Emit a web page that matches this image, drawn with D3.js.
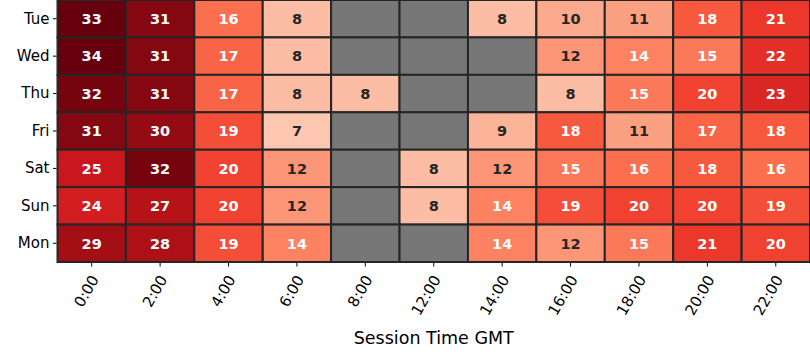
<!DOCTYPE html>
<html><head><meta charset="utf-8">
<script src="https://cdn.jsdelivr.net/npm/d3@7"></script>
<style>body{margin:0;background:#fff;} text{font-family:"DejaVu Sans",sans-serif;}</style>
</head><body>
<svg id="c" width="810" height="360"></svg>
<script>
const days = ["Tue","Wed","Thu","Fri","Sat","Sun","Mon"];
const times = ["0:00","2:00","4:00","6:00","8:00","12:00","14:00","16:00","18:00","20:00","22:00"];
const tue = [33,31,16,8,null,null,8,10,11,18,21];
const wed = [34,31,17,8,null,null,null,12,14,15,22];
const thu = [32,31,17,8,8,null,null,8,15,20,23];
const fri = [31,30,19,7,null,null,9,18,11,17,18];
const sat = [25,32,20,12,null,8,12,15,16,18,16];
const sun = [24,27,20,12,null,8,14,19,20,20,19];
const mon = [29,28,19,14,null,null,14,12,15,21,20];
const rows = [tue,wed,thu,fri,sat,sun,mon];
const redsStops = ["#fff5f0","#fee0d2","#fcbba1","#fc9272","#fb6a4a","#ef3b2c","#cb181d","#a50f15","#67000d"];

const svg = d3.select("#c");
const L = 57.5, R = 810, T = 0, B = 262;
const x = d3.scaleBand().domain(times).range([L,R]);
const y = d3.scaleBand().domain(days).range([T,B]);
const vmax = 33;
const color = d3.scaleLinear()
  .domain(redsStops.map((_,i)=>i/(redsStops.length-1)*vmax))
  .range(redsStops).interpolate(d3.interpolateRgb).clamp(true);

const cells = [];
rows.forEach((r,i)=>r.forEach((v,j)=>cells.push({day:days[i],time:times[j],v})));

const g = svg.append("g");
g.selectAll("rect").data(cells).join("rect")
  .attr("x",d=>x(d.time)).attr("y",d=>y(d.day))
  .attr("width",x.bandwidth()).attr("height",y.bandwidth())
  .attr("fill",d=>d.v==null?"#777777":color(d.v))
  .attr("stroke","#262626").attr("stroke-width",2);
g.selectAll("text.v").data(cells.filter(d=>d.v!=null)).join("text")
  .attr("class","v")
  .attr("x",d=>x(d.time)+x.bandwidth()/2).attr("y",d=>y(d.day)+y.bandwidth()/2)
  .attr("dy","0.36em").attr("text-anchor","middle")
  .attr("font-size",14.5).attr("font-weight","bold")
  .attr("fill",d=>d.v>=13?"#ffffff":"#262626")
  .text(d=>d.v);

const ya = svg.append("g").attr("transform",`translate(${L-1},0)`)
  .call(d3.axisLeft(y).tickSize(3.5).tickPadding(3.5));
ya.select(".domain").remove();
ya.selectAll("text").attr("font-size",15).attr("fill","#000").style("font-family","DejaVu Sans");
ya.selectAll("line").attr("stroke","#000");

const xa = svg.append("g").attr("transform",`translate(0,${B+1})`)
  .call(d3.axisBottom(x).tickSize(3.5).tickPadding(3.5));
xa.select(".domain").remove();
xa.selectAll("line").attr("stroke","#000");
xa.selectAll("text").attr("font-size",15).attr("fill","#000").style("font-family","DejaVu Sans")
  .attr("text-anchor","end").attr("dy","0.35em")
  .attr("transform","translate(-3,10) rotate(-60)");

svg.append("text").attr("x",(L+R)/2).attr("y",344).attr("text-anchor","middle")
  .attr("font-size",17.5).attr("fill","#000").text("Session Time GMT");
</script>
</body></html>
